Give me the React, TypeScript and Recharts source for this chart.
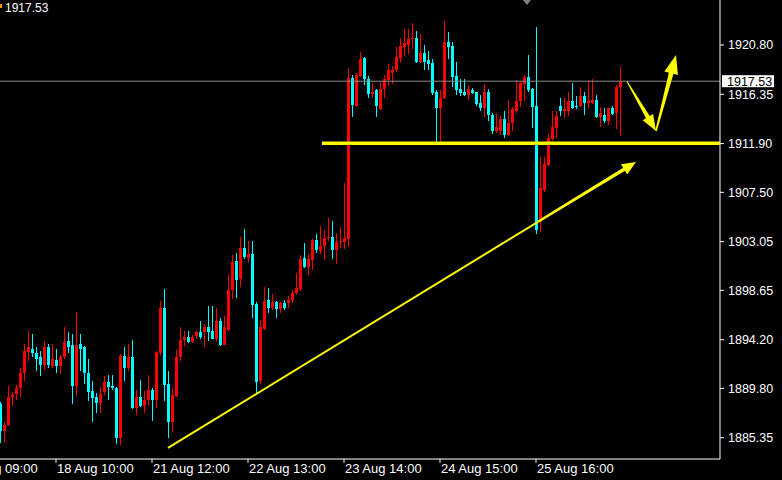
import React from 'react';
import { ComposedChart, Bar, XAxis, YAxis, ReferenceLine } from 'recharts';

// Hourly XAUUSD-style candles (one per bar index)
const openPrices = [
  1888.4, 1886.0, 1886.5, 1889.0, 1889.3, 1889.8, 1891.2, 1893.1, 1893.4, 1893.0,
  1892.6, 1891.9, 1893.5, 1891.8, 1892.4, 1891.8, 1892.6, 1894.1, 1893.7, 1890.0,
  1893.8, 1893.5, 1891.2, 1889.6, 1889.0, 1888.5, 1889.5, 1890.4, 1890.0, 1889.8,
  1885.3, 1892.7, 1891.6, 1892.6, 1888.0, 1889.0, 1888.2, 1888.8, 1889.7, 1888.8,
  1893.0, 1897.1, 1890.2, 1886.8, 1889.1, 1892.6, 1894.2, 1894.4, 1894.0, 1894.5,
  1894.9, 1894.9, 1895.3, 1895.0, 1894.3, 1895.9, 1893.7, 1895.1, 1898.7, 1901.3,
  1899.7, 1902.5, 1901.6, 1901.9, 1897.4, 1890.5, 1895.2, 1897.8, 1897.1, 1897.6,
  1897.0, 1897.5, 1897.5, 1897.8, 1898.4, 1898.8, 1901.6, 1900.8, 1901.4, 1903.2,
  1902.2, 1902.7, 1903.4, 1903.5, 1902.3, 1903.0, 1903.0, 1903.3, 1917.8, 1915.3,
  1918.0, 1919.6, 1917.7, 1916.4, 1916.7, 1915.0, 1916.8, 1917.6, 1918.3, 1918.5,
  1919.6, 1920.6, 1920.8, 1921.3, 1921.4, 1919.3, 1920.1, 1919.4, 1919.2, 1916.6,
  1915.1, 1916.0, 1921.1, 1920.7, 1918.0, 1916.8, 1916.6, 1916.3, 1916.7, 1916.6,
  1915.6, 1915.1, 1916.6, 1914.5, 1913.0, 1913.0, 1914.1, 1912.7, 1913.8, 1914.8,
  1915.7, 1917.3, 1917.9, 1916.8, 1915.3, 1904.8, 1907.7, 1910.0, 1912.3, 1913.3,
  1915.3, 1914.8, 1914.8, 1915.7, 1915.3, 1915.3, 1916.2, 1915.6, 1915.6, 1915.8,
  1914.3, 1914.5, 1913.9, 1915.1, 1914.7, 1917.0,
];
const highPrices = [
  1888.6, 1886.8, 1890.0, 1889.5, 1890.1, 1891.6, 1893.8, 1895.0, 1894.7, 1893.5,
  1893.2, 1894.0, 1893.8, 1893.8, 1893.4, 1892.8, 1895.3, 1894.9, 1894.7, 1896.7,
  1894.7, 1893.6, 1892.5, 1890.5, 1889.4, 1889.9, 1890.9, 1891.0, 1891.0, 1889.9,
  1892.9, 1893.5, 1893.8, 1894.2, 1889.7, 1890.6, 1889.6, 1891.0, 1889.8, 1893.2,
  1897.7, 1898.8, 1891.4, 1889.8, 1893.3, 1895.3, 1895.0, 1895.0, 1894.6, 1895.0,
  1895.9, 1895.6, 1897.2, 1897.2, 1897.1, 1896.2, 1896.3, 1900.0, 1901.8, 1902.0,
  1903.5, 1904.2, 1903.1, 1903.1, 1897.6, 1896.0, 1899.0, 1898.9, 1898.3, 1897.7,
  1897.6, 1897.8, 1898.1, 1898.7, 1900.2, 1901.8, 1902.9, 1901.9, 1903.3, 1903.7,
  1904.5, 1904.1, 1905.2, 1904.9, 1903.8, 1904.4, 1908.3, 1918.7, 1918.1, 1918.3,
  1920.2, 1919.7, 1918.0, 1917.4, 1916.8, 1917.5, 1918.1, 1919.1, 1918.9, 1920.6,
  1921.4, 1922.2, 1922.2, 1922.8, 1922.1, 1921.8, 1920.8, 1920.3, 1919.5, 1916.7,
  1916.7, 1923.0, 1922.0, 1921.1, 1919.3, 1917.7, 1917.7, 1917.2, 1916.9, 1916.6,
  1916.3, 1917.3, 1916.8, 1914.7, 1914.6, 1914.4, 1914.8, 1915.8, 1915.2, 1917.6,
  1917.5, 1918.1, 1919.9, 1916.9, 1922.4, 1910.7, 1910.7, 1912.8, 1914.8, 1914.8,
  1916.0, 1916.0, 1916.6, 1917.4, 1916.2, 1917.0, 1916.6, 1917.6, 1917.7, 1916.3,
  1915.2, 1915.1, 1915.1, 1915.3, 1917.2, 1918.8,
];
const lowPrices = [
  1884.9, 1884.9, 1886.4, 1888.2, 1888.8, 1889.0, 1890.5, 1892.3, 1892.6, 1891.4,
  1890.9, 1891.5, 1891.6, 1891.6, 1891.2, 1891.1, 1892.5, 1893.0, 1888.4, 1889.1,
  1891.4, 1890.2, 1888.7, 1886.8, 1887.6, 1887.6, 1889.2, 1888.8, 1889.7, 1884.8,
  1884.7, 1890.5, 1891.4, 1887.9, 1887.4, 1888.1, 1887.6, 1888.3, 1886.9, 1888.0,
  1892.7, 1888.7, 1885.3, 1885.9, 1889.0, 1892.3, 1893.6, 1893.9, 1893.9, 1894.3,
  1894.3, 1893.5, 1894.1, 1894.3, 1894.0, 1893.6, 1893.7, 1895.0, 1897.9, 1898.0,
  1899.0, 1901.5, 1901.1, 1896.2, 1889.3, 1890.2, 1895.1, 1896.6, 1896.9, 1896.2,
  1896.6, 1896.9, 1897.1, 1897.5, 1898.2, 1898.6, 1900.7, 1900.0, 1900.5, 1902.0,
  1901.9, 1901.4, 1903.1, 1901.5, 1901.0, 1902.5, 1902.4, 1902.6, 1914.3, 1915.2,
  1917.9, 1917.2, 1916.0, 1916.0, 1914.3, 1914.9, 1916.0, 1917.1, 1917.3, 1918.4,
  1919.2, 1919.8, 1920.0, 1920.4, 1919.2, 1919.2, 1918.5, 1918.5, 1916.3, 1912.0,
  1912.0, 1915.9, 1919.5, 1917.0, 1916.3, 1916.2, 1916.2, 1915.8, 1916.4, 1915.3,
  1914.8, 1914.3, 1913.9, 1912.8, 1912.9, 1912.7, 1912.4, 1912.6, 1913.0, 1914.7,
  1915.2, 1915.7, 1916.6, 1913.3, 1903.7, 1903.9, 1907.5, 1909.9, 1912.1, 1912.4,
  1914.4, 1914.2, 1914.4, 1915.0, 1915.0, 1915.2, 1914.5, 1915.1, 1915.5, 1914.2,
  1913.4, 1913.8, 1913.6, 1914.5, 1913.2, 1912.6,
];
const closePrices = [
  1886.0, 1886.5, 1889.0, 1889.2, 1889.8, 1891.2, 1893.2, 1893.5, 1893.0, 1892.5,
  1891.9, 1893.5, 1891.9, 1892.5, 1891.8, 1892.6, 1894.0, 1893.5, 1890.0, 1893.7,
  1893.4, 1891.2, 1889.5, 1888.9, 1888.5, 1889.3, 1890.4, 1889.9, 1889.8, 1885.3,
  1892.7, 1891.6, 1892.6, 1888.0, 1889.0, 1888.2, 1888.8, 1889.7, 1888.8, 1893.1,
  1897.1, 1890.1, 1886.8, 1889.2, 1892.6, 1894.2, 1894.4, 1894.0, 1894.4, 1894.9,
  1894.4, 1895.3, 1894.9, 1894.3, 1895.9, 1893.7, 1895.3, 1898.7, 1901.2, 1899.6,
  1902.5, 1901.7, 1901.9, 1897.3, 1890.4, 1895.3, 1897.7, 1897.1, 1897.6, 1897.0,
  1897.5, 1897.1, 1897.8, 1898.4, 1898.9, 1901.5, 1900.8, 1901.5, 1903.2, 1902.3,
  1902.7, 1903.4, 1903.5, 1902.3, 1903.0, 1903.1, 1903.4, 1917.8, 1915.4, 1918.1,
  1919.5, 1917.7, 1916.4, 1916.6, 1915.3, 1916.8, 1917.7, 1918.5, 1918.5, 1919.7,
  1920.7, 1921.0, 1921.3, 1921.4, 1919.3, 1920.1, 1919.3, 1919.1, 1916.5, 1915.1,
  1916.0, 1921.1, 1920.6, 1917.9, 1916.7, 1916.5, 1916.3, 1916.8, 1916.5, 1915.5,
  1915.1, 1916.6, 1914.5, 1913.0, 1913.4, 1914.1, 1912.7, 1913.8, 1915.0, 1915.7,
  1917.4, 1917.9, 1916.7, 1915.2, 1904.1, 1907.9, 1910.1, 1912.4, 1913.4, 1914.4,
  1914.8, 1915.0, 1915.7, 1915.1, 1915.2, 1916.2, 1915.6, 1915.7, 1915.8, 1914.3,
  1914.7, 1913.9, 1915.1, 1914.6, 1917.0, 1917.53,
];

const xTickBars = [-10, 14, 38, 62, 86, 110, 134];
const xTickLabels = ['17 Aug 09:00', '18 Aug 10:00', '21 Aug 12:00', '22 Aug 13:00', '23 Aug 14:00', '24 Aug 15:00', '25 Aug 16:00'];
const yTicks = [1885.35, 1889.8, 1894.2, 1898.65, 1903.05, 1907.5, 1911.9, 1916.35, 1920.8];
const lastPrice = 1917.53;
const supportLevel = 1911.92;
const trendStart = { bar: 42, price: 1884.43 };
const trendThick = { bar: 134.5, price: 1904.84 };
const trendEnd = { bar: 159, price: 1910.24 };
const zigA = { bar: 156.75, price: 1917.5 };
const zigB = { bar: 164, price: 1913.04 };
const zigC = { bar: 169, price: 1919.9 };

const FONT = '"Liberation Sans", Arial, sans-serif';
const BULL = '#ff0000';
const BEAR = '#00ffff';
const YELLOW = '#ffff00';

const chartData = openPrices.map((o, i) => ({
  bar: i,
  open: o,
  high: highPrices[i],
  low: lowPrices[i],
  close: closePrices[i],
  range: [lowPrices[i], highPrices[i]],
}));

function Candle(props: any) {
  const { x, y, width, height, payload } = props;
  if (!payload) return null;
  const { open, close, high, low } = payload;
  const top = Math.min(y, y + height);
  const bottom = Math.max(y, y + height);
  const span = high - low;
  const toY = (p: number) => (span === 0 ? top : top + ((high - p) / span) * (bottom - top));
  const cx = Math.round(x + width / 2);
  const color = close > open ? BULL : BEAR;
  const bt = Math.round(toY(Math.max(open, close)));
  const bb = Math.round(toY(Math.min(open, close)));
  return (
    <g>
      <rect x={cx} y={Math.round(top)} width={1} height={Math.max(1, Math.round(bottom) - Math.round(top))} fill={color} />
      <rect x={cx - 1} y={bt} width={3} height={Math.max(1, bb - bt)} fill={color} />
    </g>
  );
}

// arrow: tapered shaft (tail half-width t0 -> t1 at head base) plus a filled head
const makeArrow = (len: number, half: number, t0: number, t1: number) => (p: any) => {
  const { x1, y1, x2, y2, stroke } = p;
  const dx = x2 - x1;
  const dy = y2 - y1;
  const d = Math.hypot(dx, dy) || 1;
  const ux = dx / d;
  const uy = dy / d;
  const nx = -uy;
  const ny = ux;
  const bx = x2 - ux * len;
  const by = y2 - uy * len;
  const ex = bx + ux * 2;
  const ey = by + uy * 2;
  const shaft = `${x1 + nx * t0},${y1 + ny * t0} ${ex + nx * t1},${ey + ny * t1} ${ex - nx * t1},${ey - ny * t1} ${x1 - nx * t0},${y1 - ny * t0}`;
  const head = `${x2},${y2} ${bx + nx * half},${by + ny * half} ${bx - nx * half},${by - ny * half}`;
  return (
    <g>
      <polygon points={shaft} fill={stroke} />
      <polygon points={head} fill={stroke} />
    </g>
  );
};

function XTick(props: any) {
  const { x, y, payload } = props;
  const i = xTickBars.indexOf(payload.value);
  return (
    <text x={x + 1} y={y} dy={8} fill="#ffffff" fontSize={13} fontFamily={FONT} textAnchor="start">
      {xTickLabels[i]}
    </text>
  );
}

function YTick(props: any) {
  const { x, y, payload } = props;
  return (
    <text x={x} y={y} dy="0.36em" fill="#ffffff" fontSize={12.5} fontFamily={FONT} textAnchor="start">
      {Number(payload.value).toFixed(2)}
    </text>
  );
}

function PriceTag(props: any) {
  const vb = props.viewBox || {};
  const right = (vb.x || 0) + (vb.width || 0);
  const y = vb.y || 0;
  return (
    <g>
      <rect x={right + 2} y={y - 6} width={52} height={12} fill="#ffffff" />
      <text x={right + 7} y={y} dy="0.36em" fill="#000000" fontSize={12.5} fontFamily={FONT}>
        {lastPrice.toFixed(2)}
      </text>
    </g>
  );
}

export default function App() {
  return (
    <div style={{ position: 'absolute', left: 0, top: 0, width: 782, height: 480, background: '#000000', overflow: 'hidden' }}>
      <ComposedChart width={782} height={480} data={chartData} margin={{ top: 0, right: 0, bottom: 0, left: 0 }}>
        <XAxis
          dataKey="bar"
          type="number"
          domain={[0, 180]}
          allowDataOverflow
          ticks={xTickBars}
          interval={0}
          height={21}
          tickSize={4}
          tickMargin={2}
          axisLine={{ stroke: '#ffffff' }}
          tickLine={{ stroke: '#ffffff' }}
          tick={<XTick />}
        />
        <YAxis
          orientation="right"
          type="number"
          domain={[1883.43, 1924.86]}
          allowDataOverflow
          ticks={yTicks}
          interval={0}
          width={62}
          tickSize={4}
          tickMargin={4}
          axisLine={{ stroke: '#ffffff' }}
          tickLine={{ stroke: '#ffffff' }}
          tick={<YTick />}
        />
        <ReferenceLine y={lastPrice} stroke="#8c8c8c" strokeWidth={1} ifOverflow="visible" label={<PriceTag />} />
        <Bar dataKey="range" barSize={3} shape={<Candle />} isAnimationActive={false} />
        <ReferenceLine
          segment={[{ x: 80.5, y: supportLevel }, { x: 180, y: supportLevel }]}
          stroke={YELLOW}
          strokeWidth={3.5}
          ifOverflow="visible"
        />
        <ReferenceLine
          segment={[{ x: trendStart.bar, y: trendStart.price }, { x: trendThick.bar, y: trendThick.price }]}
          stroke={YELLOW}
          strokeWidth={2}
          ifOverflow="visible"
        />
        <ReferenceLine
          segment={[{ x: trendThick.bar, y: trendThick.price }, { x: trendEnd.bar, y: trendEnd.price }]}
          stroke={YELLOW}
          ifOverflow="visible"
          shape={makeArrow(14, 6, 1.2, 1.8)}
        />
        <ReferenceLine
          segment={[{ x: zigA.bar, y: zigA.price }, { x: zigB.bar, y: zigB.price }]}
          stroke={YELLOW}
          ifOverflow="visible"
          shape={makeArrow(16, 6, 0.5, 2.2)}
        />
        <ReferenceLine
          segment={[{ x: zigB.bar, y: zigB.price }, { x: zigC.bar, y: zigC.price }]}
          stroke={YELLOW}
          ifOverflow="visible"
          shape={makeArrow(19, 7, 0.8, 2.4)}
        />
      </ComposedChart>
      <div style={{ position: 'absolute', left: 0, top: 4, width: 2, height: 4, background: '#ff8c00' }} />
      <div style={{ position: 'absolute', left: 5, top: 1, color: '#ffffff', fontSize: 12, fontFamily: FONT, lineHeight: '14px' }}>
        {lastPrice.toFixed(2)}
      </div>
      <svg style={{ position: 'absolute', left: 523, top: 0 }} width={9} height={6}>
        <polygon points="0,0 8,0 4,5" fill="#808080" />
      </svg>
    </div>
  );
}
